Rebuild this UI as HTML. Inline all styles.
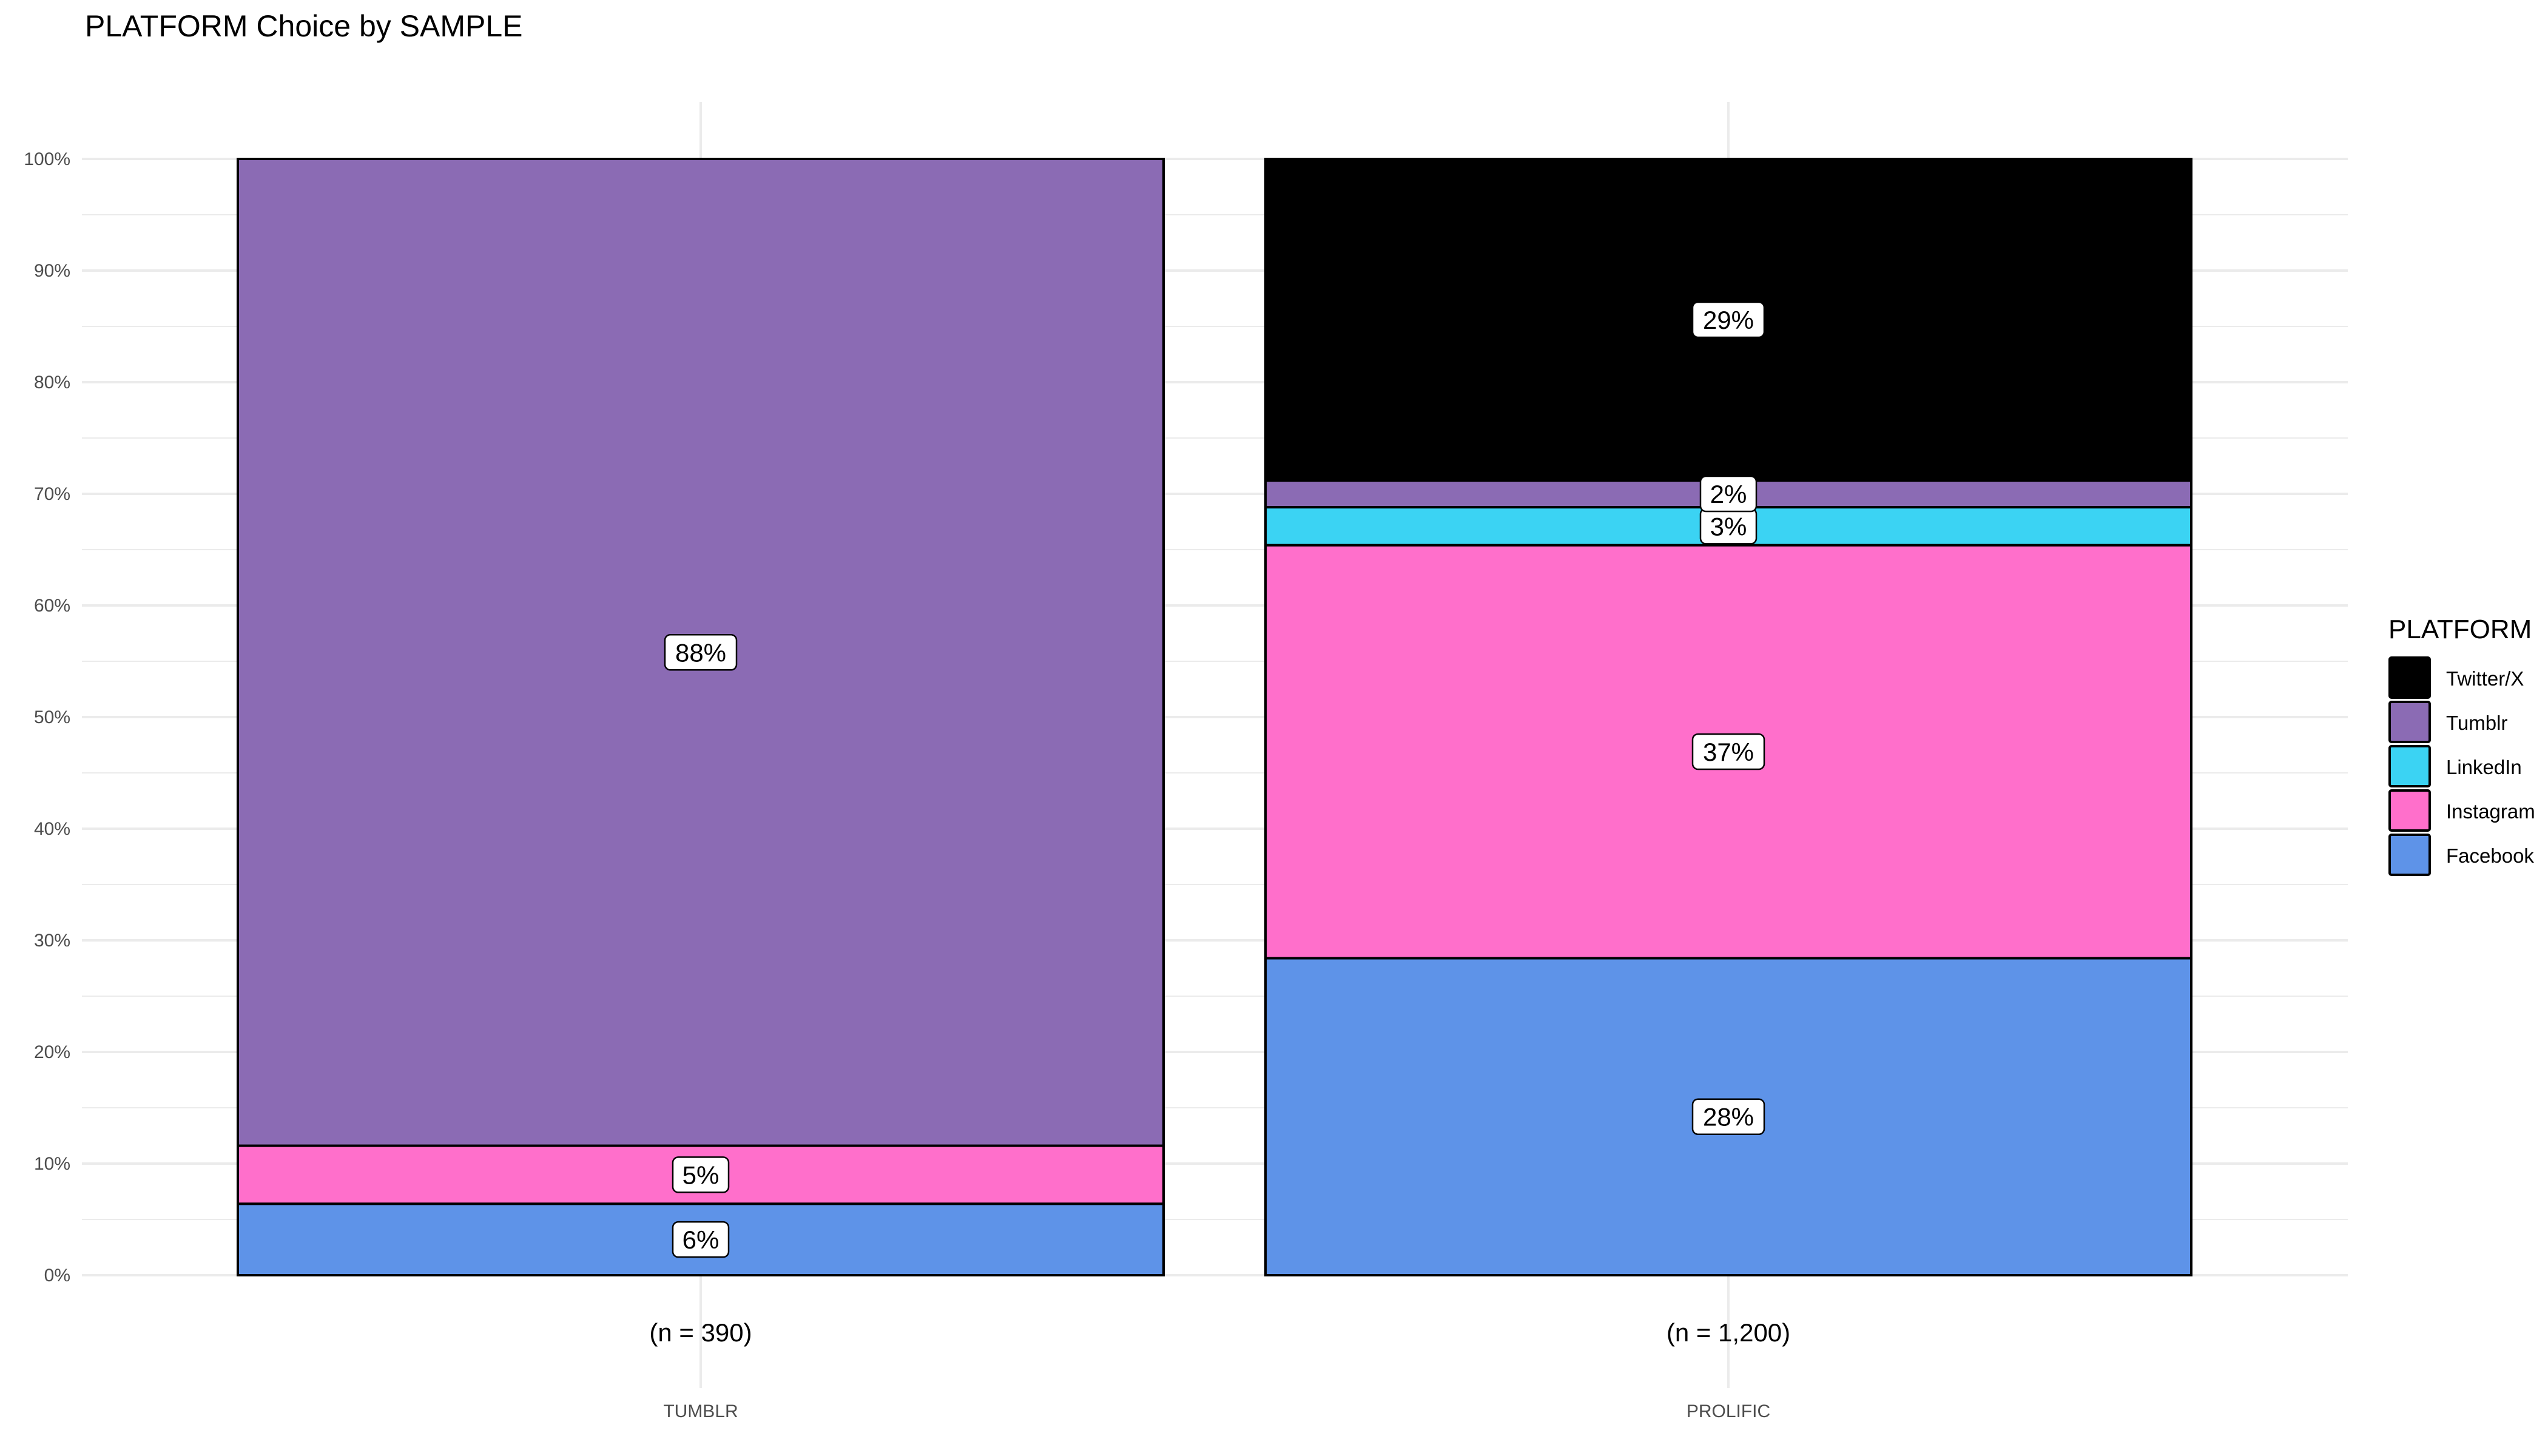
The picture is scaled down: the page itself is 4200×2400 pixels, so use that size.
<!DOCTYPE html>
<html><head><meta charset="utf-8"><style>
html,body{margin:0;padding:0;background:#fff;}
svg{display:block;font-family:"Liberation Sans",Arial,sans-serif;}
</style></head><body>
<svg id="chart" width="4200" height="2400" viewBox="0 0 4200 2400">
<rect width="4200" height="2400" fill="#fff"/>
<text x="140" y="60" font-size="50" fill="#000">PLATFORM Choice by SAMPLE</text>
<g id="grid"></g><g id="bars"></g><g id="labels"></g><g id="axes"></g><g id="legend"></g>
</svg>
<script>
const categories = ["TUMBLR", "PROLIFIC"];
const nLabels = ["(n = 390)", "(n = 1,200)"];
const platforms = ["Facebook", "Instagram", "LinkedIn", "Tumblr", "Twitter/X"];
const facebook = [6.4, 28.4];
const instagram = [5.2, 37.0];
const linkedin = [0, 3.4];
const tumblr = [88.4, 2.4];
const twitter = [0, 28.8];
const yTicks = [0,10,20,30,40,50,60,70,80,90,100];
const colors = {"Facebook":"#5e93e8","Instagram":"#ff6fcb","LinkedIn":"#3bd3f3","Tumblr":"#8b6bb4","Twitter/X":"#000000"};

const NS = "http://www.w3.org/2000/svg";
const y0 = 2102, y100 = 262, left = 135, right = 3870;
const yS = v => y0 - (y0 - y100) * v / 100;
const centers = [1155, 2849];
const barW = 1526;
const xS = i => centers[i];
function mk(parent, tag, attrs){const e=document.createElementNS(NS,tag);for(const k in attrs)e.setAttribute(k,attrs[k]);document.getElementById(parent).appendChild(e);return e;}

for (let t = 0; t < 100; t += 5) {
  const l = mk('grid','line',{x1:left,x2:right,y1:yS(t+5),y2:yS(t+5),stroke:'#ebebeb','stroke-width': (t+5)%10===0?4:2});
  
  
}
{ const l = mk('grid','line',{x1:left,x2:right,y1:yS(0),y2:yS(0),stroke:'#ebebeb','stroke-width':4});
  
   }
categories.forEach((c,i)=>{
  const l = mk('grid','line',{x1:xS(i),x2:xS(i),y1:168,y2:2288,stroke:'#ebebeb','stroke-width':4});
  
  
});
yTicks.forEach(t=>{
  const tx = mk('axes','text',{x:116,y:yS(t)+10,'text-anchor':'end','font-size':30,fill:'#4d4d4d'});
  tx.textContent = t + '%';
  
  
});
categories.forEach((c,i)=>{
  const n = mk('axes','text',{x:xS(i),y:2211,'text-anchor':'middle','font-size':42,fill:'#000'});
  n.textContent = nLabels[i];
  
  
  const t = mk('axes','text',{x:xS(i),y:2336,'text-anchor':'middle','font-size':30,fill:'#4d4d4d'});
  t.textContent = c;
  
  
});
const series = [facebook, instagram, linkedin, tumblr, twitter];
categories.forEach((c,i)=>{
  let cum = 0;
  series.forEach((s,k)=>{
    const v = s[i];
    if (v <= 0) return;
    const top = yS(cum+v), bot = yS(cum);
    const r = mk('bars','rect',{x:xS(i)-barW/2,y:top,width:barW,height:bot-top,fill:colors[platforms[k]],stroke:'#000','stroke-width':4});
    
    
    const cy = (top+bot)/2;
    const txt = Math.round(v) + '%';
    const w = txt.length*26 + 40;
    const b = mk('labels','rect',{x:xS(i)-w/2,y:cy-29,width:w,height:58,rx:9,fill:'#fff',stroke:'#000','stroke-width':2.5});
    
    
    const t = mk('labels','text',{x:xS(i),y:cy+15,'text-anchor':'middle','font-size':42,fill:'#000'});
    t.textContent = txt;
    
    
    cum += v;
  });
});
{ const t = mk('legend','text',{x:3937,y:1052,'font-size':44,fill:'#000'});
  t.textContent = 'PLATFORM';
  
   }
const legendOrder = ["Twitter/X","Tumblr","LinkedIn","Instagram","Facebook"];
legendOrder.forEach((p,j)=>{
  const y = 1082 + j*73;
  const r = mk('legend','rect',{x:3939,y:y+2,width:66,height:66,rx:3,fill:colors[p],stroke:'#000','stroke-width':4});
  
  
  const t = mk('legend','text',{x:4032,y:y+48,'font-size':33,fill:'#000'});
  t.textContent = p;
  
  
});
</script>
</body></html>
